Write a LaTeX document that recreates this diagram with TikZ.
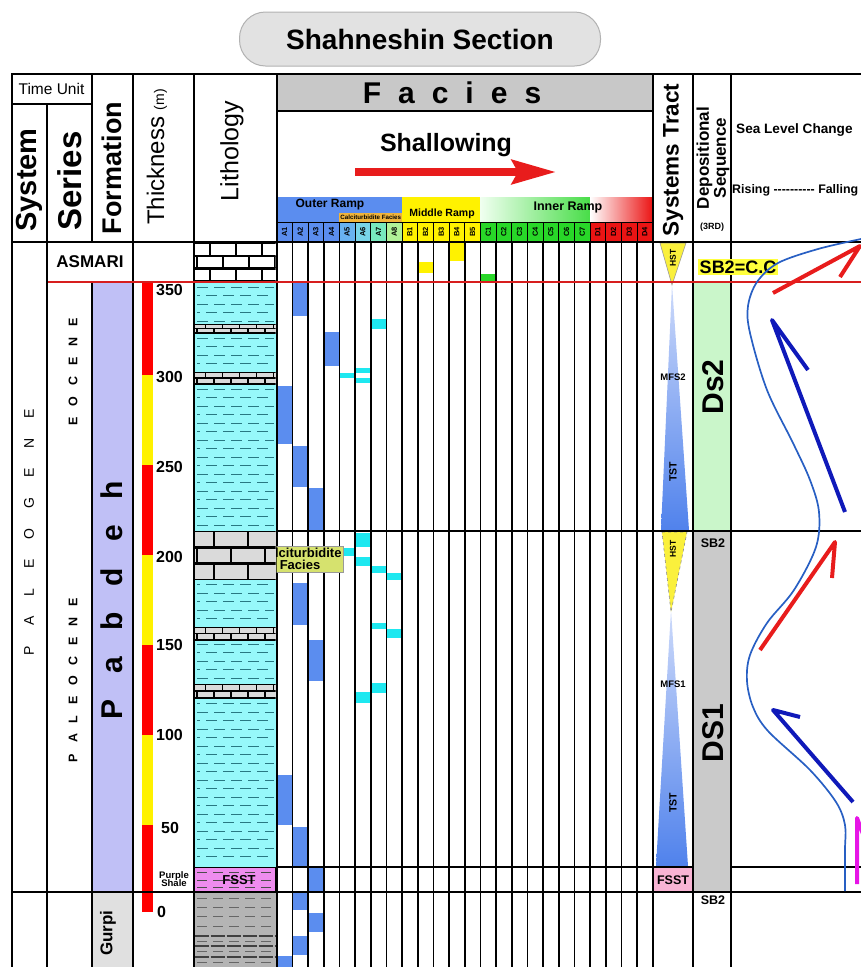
\documentclass[tikz,border=0pt]{standalone}
\usepackage{fontspec}
\setmainfont{Liberation Sans}
\usetikzlibrary{arrows.meta,positioning,calc}

\definecolor{titlegray}{RGB}{226,226,226}
\definecolor{faciesgray}{RGB}{200,200,200}
\definecolor{fblue}{RGB}{91,141,239}
\definecolor{fcyan}{RGB}{30,232,240}
\definecolor{acolA}{RGB}{105,178,240}
\definecolor{acolB}{RGB}{120,212,232}
\definecolor{acolC}{RGB}{120,232,190}
\definecolor{acolD}{RGB}{176,240,152}
\definecolor{cgreen}{RGB}{40,215,40}
\definecolor{dred}{RGB}{235,20,20}
\definecolor{calcorange}{RGB}{240,180,60}
\definecolor{calcbox}{RGB}{214,226,110}
\definecolor{shalecyan}{RGB}{150,248,250}
\definecolor{dashteal}{RGB}{40,120,130}
\definecolor{pablav}{RGB}{192,192,246}
\definecolor{gurpigray}{RGB}{180,180,180}
\definecolor{limegray}{RGB}{218,218,218}
\definecolor{purpsh}{RGB}{238,140,238}
\definecolor{hstyel}{RGB}{250,240,60}
\definecolor{tstlight}{RGB}{205,218,250}
\definecolor{tstdark}{RGB}{80,130,236}
\definecolor{fsstpink}{RGB}{248,180,212}
\definecolor{dsgreen}{RGB}{202,246,202}
\definecolor{dsgray}{RGB}{202,202,202}
\definecolor{labyel}{RGB}{255,255,60}
\definecolor{slblue}{RGB}{40,95,195}
\definecolor{arrblue}{RGB}{15,25,185}
\definecolor{arrred}{RGB}{232,28,28}
\definecolor{arrmag}{RGB}{230,20,230}
\definecolor{redrule}{RGB}{215,30,30}

\newcommand{\fsz}[1]{\fontsize{#1}{#1}\selectfont}
\newcommand{\hy}{-\kern0pt}
% limestone bed: top y, row height, rows, brick width, fill, line width
\newcommand{\brickbed}[6]{%
  \fill[#5] (194.5,#1) rectangle (275.5,{#1+#2*#3});
  \begin{scope}
    \clip (194.5,#1) rectangle (275.5,{#1+#2*#3});
    \foreach \r in {1,...,#3}{
      \pgfmathsetmacro{\ya}{#1+(\r-1)*#2}
      \pgfmathsetmacro{\yb}{#1+\r*#2}
      \pgfmathsetmacro{\xs}{197+mod(\r,2)*#4/2}
      \pgfmathsetmacro{\xt}{\xs+#4}
      \draw[line width=#6] (194,\ya) -- (276,\ya);
      \foreach \xx in {\xs,\xt,...,290}
        \draw[line width=#6] (\xx,\ya) -- (\xx,\yb);
    }
    \draw[line width=#6] (194,{#1+#2*#3}) -- (276,{#1+#2*#3});
  \end{scope}
}

\begin{document}
\begin{tikzpicture}[x=1pt, y=-1pt,
  frame/.style={line width=2pt},
  grid/.style={line width=1.7pt},
  hline/.style={line width=1.8pt},
  rotlab/.style={rotate=90, inner sep=0pt},
  collab/.style={rotate=90, inner sep=0pt, font=\fsz{7.5}\bfseries},
  tick/.style={anchor=west, inner sep=0pt, font=\fsz{16}\bfseries},
  tract/.style={inner sep=0pt, font=\fsz{9.5}\bfseries},
  seqlab/.style={rotate=90, inner sep=0pt, font=\fsz{30}\bfseries},
  sblab/.style={inner sep=0pt, font=\fsz{12.5}\bfseries},
  shaledash/.style={draw=dashteal, line width=1pt, dash pattern=on 11pt off 6pt},
  gdash/.style={draw=black!60, line width=0.9pt, dash pattern=on 10pt off 6pt},
  slcurve/.style={draw=slblue, line width=1.7pt},
  slarrow/.style={line width=4pt, line join=round},
]
  \useasboundingbox (0,0) rectangle (861,967);

  % title
  \node[draw=black!30, line width=1pt, fill=titlegray, rounded corners=26pt,
        minimum width=361pt, minimum height=54pt, font=\fsz{28}\bfseries] (title) at (420,39) {Shahneshin Section};

  % facies header bands
  \fill[faciesgray] (276.7,74) rectangle (652.7,111);
  \fill[fblue] (276.7,197) rectangle (402.3,222);
  \fill[yellow] (402.3,197) rectangle (480.3,222);
  \shade[left color=green!6, right color=cgreen!85] (480.3,197) rectangle (590,222);
  \shade[left color=white, right color=dred] (590,197) rectangle (652.7,222);
  \node[fill=calcorange, inner sep=0pt, minimum width=62.7pt, minimum height=9pt, anchor=south east,
        font=\fsz{6.2}\bfseries] (calc) at (402.3,222) {Calciturbidite Facies};
  \node[font=\fsz{12}\bfseries] (outer) at (330,205) {Outer Ramp};
  \node[font=\fsz{10.5}\bfseries] (middle) at (442,214) {Middle Ramp};
  \node[font=\fsz{12.5}\bfseries] (inner) at (568,207) {Inner Ramp};

  % facies codes
  \foreach \lab/\clr [count=\i from 0] in {A1/fblue,A2/fblue,A3/fblue,A4/fblue,A5/acolA,A6/acolB,A7/acolC,A8/acolD,
      B1/yellow,B2/yellow,B3/yellow,B4/yellow,B5/yellow,
      C1/cgreen,C2/cgreen,C3/cgreen,C4/cgreen,C5/cgreen,C6/cgreen,C7/cgreen,
      D1/dred,D2/dred,D3/dred,D4/dred}{
    \filldraw[fill=\clr, draw=black, line width=1pt] ({276.7+15.67*\i},222) rectangle ({292.37+15.67*\i},242);
    \node[collab] (l\lab) at ({284.5+15.67*\i},232) {\lab};
  }

  % formation and thickness
  \fill[pablav] (92,282) rectangle (132.5,892);
  \fill[black!12] (92,892) rectangle (132.5,967);
  \foreach \a/\b/\clr in {282/375/red,375/465/yellow,465/555/red,555/645/yellow,645/735/red,735/825/yellow,825/912/red}
    \fill[\clr] (142,\a) rectangle (153,\b);

  % lithology
  \fill[shalecyan] (194.5,282) rectangle (275.5,867);
  \foreach \yy in {287,304,...,863} \draw[shaledash] (197,\yy) -- (274,\yy);
  \foreach \yy in {295.5,312.5,...,863} \draw[shaledash, dash phase=8pt] (197,\yy) -- (274,\yy);
  \brickbed{243}{12.7}{3}{26}{white}{2.2pt}
  \brickbed{324}{4.5}{2}{17}{limegray}{1.2pt}
  \brickbed{372}{6}{2}{17}{limegray}{1.2pt}
  \brickbed{531}{16.3}{3}{34}{limegray}{2.6pt}
  \brickbed{627}{6.5}{2}{17}{limegray}{1.2pt}
  \brickbed{684}{7}{2}{17}{limegray}{1.2pt}
  \filldraw[fill=purpsh, draw=black, line width=0.8pt] (194.5,867) rectangle (275.5,892);
  \foreach \yy in {872,880,887} \draw[draw=black!70, line width=0.8pt, dash pattern=on 10pt off 6pt] (197,\yy) -- (274,\yy);
  \fill[gurpigray] (194.5,892) rectangle (275.5,967);
  \foreach \yy in {898,907,916,926,941,951,962} \draw[gdash] (197,\yy) -- (274,\yy);
  \foreach \yy in {936,946,957} \draw[draw=black!75, line width=1.5pt, dash pattern=on 14pt off 2pt] (194.5,\yy) -- (275.5,\yy);

  % facies occurrences
  \foreach \c/\a/\b/\clr in {9/262/273/yellow, 11/243/261/yellow, 13/274/281/cgreen,
      1/283/316/fblue, 6/319/329/fcyan, 3/332/366/fblue, 4/373/378/fcyan, 5/368/373/fcyan, 5/378/383/fcyan,
      0/386/444/fblue, 1/446/487/fblue, 2/488/530/fblue,
      5/533/547/fcyan, 4/548/556/fcyan, 5/557/566/fcyan, 6/566/573/fcyan, 7/573/580/fcyan,
      1/583/625/fblue, 6/623/629/fcyan, 7/629/638/fcyan, 2/640/681/fblue, 6/683/693/fcyan, 5/692/703/fcyan,
      0/775/825/fblue, 1/827/867/fblue, 2/867/891/fblue, 1/892/910/fblue, 2/913/932/fblue, 1/936/955/fblue, 0/956/967/fblue}
    \fill[\clr] ({276.7+15.67*\c},\a) rectangle ({292.37+15.67*\c},\b);

  % systems tracts
  \filldraw[fill=hstyel, draw=black!40, line width=0.6pt] (660,243) -- (686,243) -- (672,285) -- cycle;
  \shade[top color=tstlight, bottom color=tstdark] (672,284) -- (689,530) -- (661,530) -- cycle;
  \filldraw[fill=hstyel, draw=black!45, line width=0.6pt, dashed] (662,532) -- (687,532) -- (671,612) -- cycle;
  \shade[top color=tstlight, bottom color=tstdark] (671,610) -- (688,866) -- (656,866) -- cycle;
  \fill[fsstpink] (653,867) rectangle (693,892);

  % depositional sequences
  \fill[dsgreen] (693,282) rectangle (731,531);
  \fill[dsgray] (693,531) rectangle (731,892);

  % rules
  \foreach \i in {1,...,23}
    \draw[grid] ({276.7+15.67*\i},242) -- ({276.7+15.67*\i},967);
  \foreach \xx/\ya in {12/74, 47/104, 133/74, 194/74, 276.7/74, 652.7/74, 693/74, 731/74}
    \draw[frame] (\xx,\ya) -- (\xx,967);
  \draw[frame] (91.5,74) -- (91.5,242);
  \draw[frame] (91.5,282) -- (91.5,967);
  \draw[frame] (11,74) -- (861,74);
  \draw[frame] (12,104) -- (91.5,104);
  \draw[frame] (276.7,111) -- (652.7,111);
  \draw[frame] (12,242) -- (861,242);
  \draw[hline] (276.7,531) -- (861,531);
  \draw[hline] (276.7,867) -- (693,867);
  \draw[hline] (731,867) -- (861,867);
  \draw[frame] (12,892) -- (861,892);
  \draw[line width=2pt, draw=redrule] (48,282) -- (861,282);

  % header texts
  \node[font=\fsz{15.5}] (tunit) at (51.5,89) {Time Unit};
  \node[rotlab, font=\fsz{29}\bfseries] (system) at (29,180) {System};
  \node[rotlab, font=\fsz{33}\bfseries] (series) at (70,181) {Series};
  \node[rotlab, font=\fsz{27}\bfseries] (formation) at (112,168) {Formation};
  \node[rotlab, font=\fsz{24}] (thick) at (157,157) {Thickness {\fsz{14}(m)}};
  \node[rotlab, font=\fsz{25}] (litho) at (232,151) {Lithology};
  \node[font=\fsz{30}\bfseries] (facies) at (452,93) {F\hspace{17pt}a\hspace{17pt}c\hspace{17pt}i\hspace{17pt}e\hspace{17pt}s};
  \node[font=\fsz{25}\bfseries] (shallow) at (446,145) {Shallowing};
  \coordinate (sha) at (355,172);
  \coordinate (shb) at (556,172);
  \draw[line width=8pt, draw=arrred, -{Stealth[length=44pt, width=24pt, inset=6pt]}] (sha) -- (shb);
  \node[rotlab, font=\fsz{22.5}\bfseries] (tract) at (673,160) {Systems Tract};
  \node[rotlab, align=center, font=\fsz{17}\bfseries] (depseq) at (713,158) {Depositional\\Sequence};
  \node[font=\fsz{9}\bfseries] (third) at (712,227) {(3RD)};
  \node[anchor=west, inner sep=0pt, font=\fsz{13.6}\bfseries] (slc) at (736,130) {Sea Level Change};
  \node[anchor=west, inner sep=0pt, font=\fsz{12.4}\bfseries] (rising) at (732,190) {Rising \hy\hy\hy\hy\hy\hy\hy\hy\hy\hy\ Falling};

  % column texts
  \node[font=\fsz{17}\bfseries] (asmari) at (90,262) {ASMARI};
  \node[rotlab, font=\fsz{14}] (paleogene) at (29,532) {P\hspace{20pt}A\hspace{20pt}L\hspace{20pt}E\hspace{20pt}O\hspace{20pt}G\hspace{20pt}E\hspace{20pt}N\hspace{20pt}E};
  \node[rotlab, font=\fsz{12.5}\bfseries] (eocene) at (73,372) {E\hspace{11pt}O\hspace{11pt}C\hspace{11pt}E\hspace{11pt}N\hspace{11pt}E};
  \node[rotlab, font=\fsz{12.5}\bfseries] (paleocene) at (73,680) {P\hspace{10.8pt}A\hspace{10.8pt}L\hspace{10.8pt}E\hspace{10.8pt}O\hspace{10.8pt}C\hspace{10.8pt}E\hspace{10.8pt}N\hspace{10.8pt}E};
  \node[rotlab, font=\fsz{30}\bfseries] (pabdeh) at (112,600) {P\hspace{26pt}a\hspace{26pt}b\hspace{26pt}d\hspace{26pt}e\hspace{26pt}h};
  \node[rotlab, font=\fsz{17}\bfseries] (gurpi) at (108,933) {Gurpi};
  \foreach \v/\yy/\xx in {350/290/156, 300/377/156, 250/467/156, 200/557/156, 150/645/156, 100/735/156, 50/828/161, 0/912/157}
    \node[tick] (t\v) at (\xx,\yy) {\v};
  \node[align=center, inner sep=0pt, font=\fsz{9.5}\bfseries] (purple) at (174,879) {Purple\\[-1pt]Shale};
  \node[font=\fsz{13}\bfseries, inner sep=0pt] (fsstl) at (239,880) {FSST};
  \begin{scope}
    \clip (276.7,530) rectangle (350,590);
    \node[fill=calcbox, draw=black!40, align=center, inner sep=2pt, font=\fsz{13}\bfseries] (calcit) at (300,559) {Calciturbidite\\[-1pt]Facies};
  \end{scope}

  % systems tract and sequence texts
  \node[rotlab, font=\fsz{8.5}\bfseries] (hst2) at (673,258) {HST};
  \node[tract] (mfs2) at (673,377) {MFS2};
  \node[rotlab, font=\fsz{10.5}\bfseries] (tst2) at (673,472) {TST};
  \node[rotlab, font=\fsz{8.5}\bfseries] (hst1) at (673,549) {HST};
  \node[tract] (mfs1) at (673,684) {MFS1};
  \node[rotlab, font=\fsz{10.5}\bfseries] (tst1) at (673,803) {TST};
  \node[font=\fsz{12.5}\bfseries, inner sep=0pt] (fsst) at (673,880) {FSST};
  \node[fill=labyel, inner sep=1.5pt, font=\fsz{18}\bfseries] (cc) at (738,267) {SB2=C.C};
  \node[seqlab] (ds2) at (713,387) {Ds2};
  \node[sblab] (sb2a) at (713,543) {SB2};
  \node[seqlab] (ds1) at (713,733) {DS1};
  \node[sblab] (sb2b) at (713,900) {SB2};

  % sea level curve
  \draw[slcurve] plot[smooth, tension=0.55] coordinates {(861,239) (818,249) (778,263) (757,282) (748,306) (750,333)
    (767,390) (793,443) (810,480) (819,512) (816,547) (794,590) (767,623) (750,655) (747,681) (753,707)
    (768,731) (810,770) (836,802) (845,825) (845,850) (845,891)};
  % rise and fall arrows
  \coordinate (r1s) at (773,293); \coordinate (r1t) at (860,246); \coordinate (r1b) at (840,277);
  \coordinate (b1s) at (845,512); \coordinate (b1t) at (772,320); \coordinate (b1b) at (808,370);
  \coordinate (r2s) at (760,650); \coordinate (r2t) at (835,542); \coordinate (r2b) at (832,578);
  \coordinate (b2s) at (853,802); \coordinate (b2t) at (773,710); \coordinate (b2b) at (800,717);
  \coordinate (m1s) at (857,884); \coordinate (m1t) at (857,818); \coordinate (m1b) at (866,842);
  \draw[slarrow, draw=arrred] (r1s) -- (r1t) -- (r1b);
  \draw[slarrow, draw=arrblue] (b1s) -- (b1t) -- (b1b);
  \draw[slarrow, draw=arrred] (r2s) -- (r2t) -- (r2b);
  \draw[slarrow, draw=arrblue] (b2s) -- (b2t) -- (b2b);
  \draw[slarrow, draw=arrmag] (m1s) -- (m1t) -- (m1b);
\end{tikzpicture}
\end{document}
